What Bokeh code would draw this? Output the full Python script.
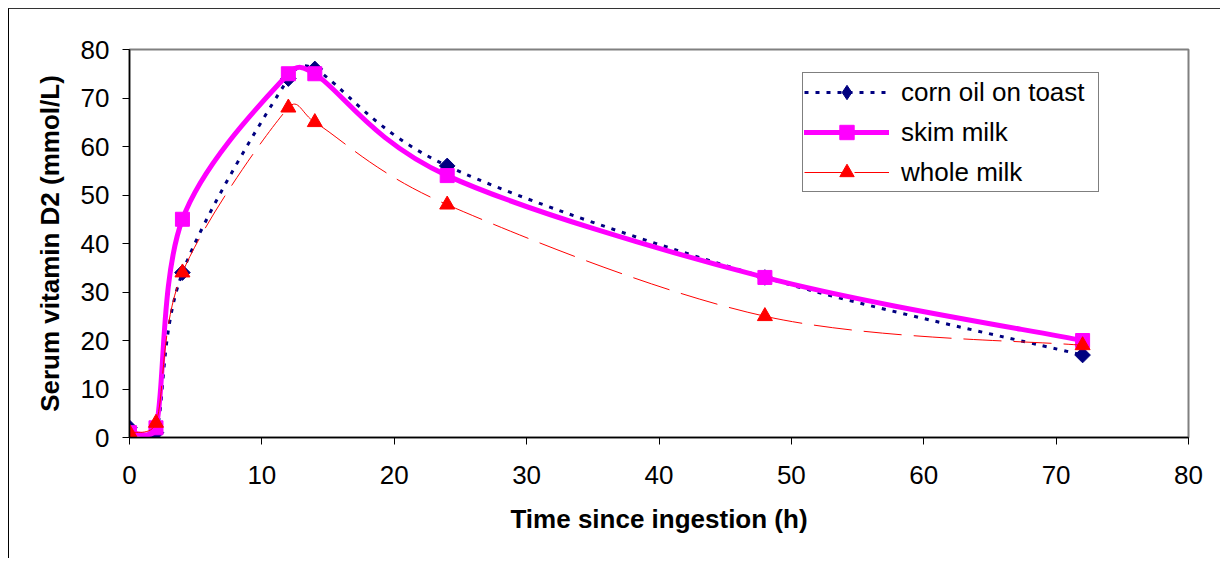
import numpy as np
from bokeh.plotting import figure
from bokeh.models import Range1d, Legend, LegendItem, ColumnDataSource
from bokeh.embed import file_html
from bokeh.resources import INLINE

# ---- data ----
hours = [0, 2, 4, 12, 14, 24, 48, 72]
corn_oil = [2, 1, 34, 74, 76, 56, 33, 17]
skim_milk = [1, 2, 45, 75, 75, 54, 33, 20]
whole_milk = [1, 3, 34, 68, 65, 48, 25, 19]
series_names = ["corn oil on toast", "skim milk", "whole milk"]
x_ticks = [0, 10, 20, 30, 40, 50, 60, 70, 80]
y_ticks = [0, 10, 20, 30, 40, 50, 60, 70, 80]
x_title = "Time since ingestion (h)"
y_title = "Serum vitamin D2 (mmol/L)"

# ---- layout ----
W, H = 1212, 550
ML, MR, MT, MB = 120, 33, 40, 122
XR = (0, 80)
YR = (0, 80)
FONT = "Liberation Sans"
NAVY, MAGENTA, RED = "#000080", "#FF00FF", "#FF0000"

p = figure(width=W, height=H, x_range=Range1d(*XR), y_range=Range1d(*YR),
           output_backend="svg", toolbar_location=None,
           min_border_left=ML, min_border_right=MR,
           min_border_top=MT, min_border_bottom=MB)
p.styles = {"margin-left": "8px", "margin-top": "8px",
            "border-left": "1px solid #000000", "border-top": "1px solid #333333"}
p.background_fill_color = "white"
p.border_fill_color = "white"
p.outline_line_color = "#808080"
p.outline_line_width = 2
p.xgrid.visible = False
p.ygrid.visible = False

# pixel scales (for Excel-like smoothing computed in screen space)
SX = (W - ML - MR) / (XR[1] - XR[0])
SY = (H - MT - MB) / (YR[1] - YR[0])


def smooth(xs, ys):
    P = np.column_stack([np.asarray(xs, float) * SX, np.asarray(ys, float) * SY])
    n = len(P)
    d = dict(x0=[], y0=[], x1=[], y1=[], cx0=[], cy0=[], cx1=[], cy1=[])
    for i in range(n - 1):
        p0 = P[max(i - 1, 0)]
        p1 = P[i]
        p2 = P[i + 1]
        p3 = P[min(i + 2, n - 1)]
        half = np.hypot(*(p2 - p1)) / 2.0
        t1 = (p2 - p0) / 6.0
        t2 = (p3 - p1) / 6.0
        l1 = np.hypot(*t1)
        l2 = np.hypot(*t2)
        if l1 > half:
            t1 = t1 * half / l1
        if l2 > half:
            t2 = t2 * half / l2
        c1 = p1 + t1
        c2 = p2 - t2
        d["x0"].append(p1[0] / SX); d["y0"].append(p1[1] / SY)
        d["x1"].append(p2[0] / SX); d["y1"].append(p2[1] / SY)
        d["cx0"].append(c1[0] / SX); d["cy0"].append(c1[1] / SY)
        d["cx1"].append(c2[0] / SX); d["cy1"].append(c2[1] / SY)
    return ColumnDataSource(d)


styles = [
    dict(y=corn_oil, color=NAVY, lw=3, dash="4 7", cap="butt", marker="square",
         size=11, angle=np.pi / 4, leg_marker="diamond"),
    dict(y=skim_milk, color=MAGENTA, lw=5, dash="solid", cap="round", marker="square",
         size=14, angle=0, leg_marker="square"),
    dict(y=whole_milk, color=RED, lw=1, dash="38 12", cap="butt", marker="triangle",
         size=15, angle=0, leg_marker="triangle"),
]

items = []
for name, st in zip(series_names, styles):
    src = smooth(hours, st["y"])
    p.bezier(x0="x0", y0="y0", x1="x1", y1="y1", cx0="cx0", cy0="cy0",
             cx1="cx1", cy1="cy1", source=src, line_color=st["color"],
             line_width=st["lw"], line_dash=st["dash"], line_cap=st["cap"],
             line_join="round")
    # legend-only renderers (hidden in the plot, drawn by the legend)
    leg_line = p.line(x=hours, y=st["y"], line_color=st["color"], line_width=st["lw"],
                      line_dash=st["dash"], line_cap=st["cap"], visible=False)
    leg_pts = p.scatter(x=hours, y=st["y"], marker=st["leg_marker"], size=st["size"],
                        fill_color=st["color"], line_color=st["color"], visible=False)
    p.scatter(x=hours, y=st["y"], marker=st["marker"], size=st["size"],
              angle=st["angle"], fill_color=st["color"],
              line_color=st["color"], line_width=1)
    items.append(LegendItem(label=name, renderers=[leg_line, leg_pts]))

legend = Legend(items=items, location=(673, 245))
legend.border_line_color = "black"
legend.border_line_width = 1
legend.background_fill_color = "white"
legend.background_fill_alpha = 1
legend.padding = 1
legend.spacing = 4
legend.margin = 0
legend.glyph_width = 85
legend.glyph_height = 36
legend.label_height = 28
legend.label_width = 196
legend.label_standoff = 12
legend.label_text_font = FONT
legend.label_text_font_size = "26px"
legend.label_text_color = "black"
p.add_layout(legend)

for ax in (p.xaxis[0], p.yaxis[0]):
    ax.axis_line_color = "black"
    ax.axis_line_width = 1.5
    ax.major_tick_line_color = "black"
    ax.major_tick_line_width = 1
    ax.major_tick_out = 7
    ax.major_tick_in = 0
    ax.minor_tick_out = 0
    ax.minor_tick_in = 0
    ax.major_label_text_font = FONT
    ax.major_label_text_font_size = "26px"
    ax.major_label_text_color = "black"
    ax.axis_label_text_font = FONT
    ax.axis_label_text_font_size = "26px"
    ax.axis_label_text_font_style = "bold"
    ax.axis_label_text_color = "black"

p.xaxis.ticker = x_ticks
p.yaxis.ticker = y_ticks
p.xaxis.axis_label = x_title
p.yaxis.axis_label = y_title
p.xaxis.major_label_standoff = 21
p.yaxis.major_label_standoff = 13
p.xaxis.axis_label_standoff = 17
p.yaxis.axis_label_standoff = 13

open("out.html", "w").write(file_html(p, INLINE))
